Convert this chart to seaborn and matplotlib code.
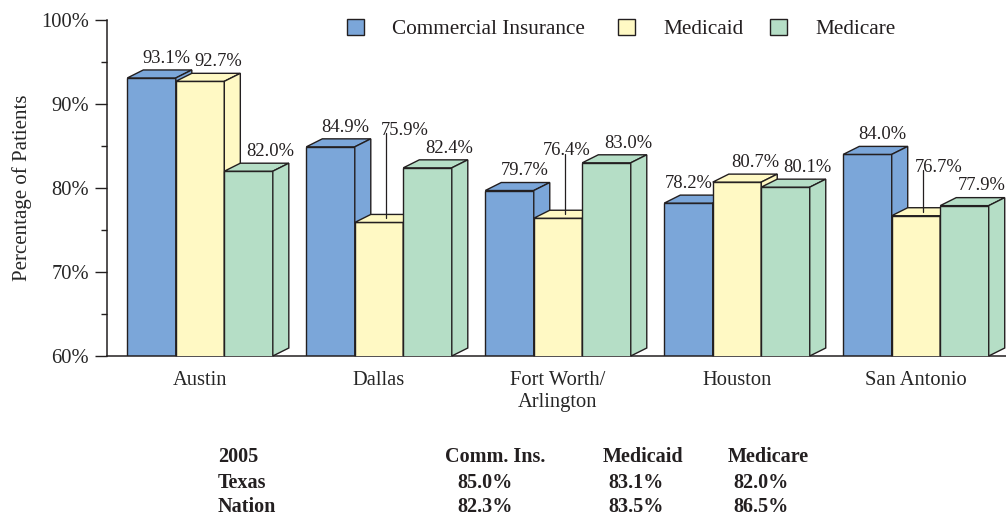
import numpy as np
import pandas as pd
import matplotlib
matplotlib.use("Agg")
import matplotlib.pyplot as plt
from matplotlib.patches import Polygon, Patch
from matplotlib.ticker import MultipleLocator, PercentFormatter
import seaborn as sns

# data
cities = ["Austin", "Dallas", "Fort Worth/\nArlington", "Houston", "San Antonio"]
payers = ["Commercial Insurance", "Medicaid", "Medicare"]
commercial = [93.1, 84.9, 79.7, 78.2, 84.0]
medicaid = [92.7, 75.9, 76.4, 80.7, 76.7]
medicare = [82.0, 82.4, 83.0, 80.1, 77.9]

table_header = ["2005", "Comm. Ins.", "Medicaid", "Medicare"]
table_rows = ["Texas", "Nation"]
texas_2005 = ["85.0%", "83.1%", "82.0%"]
nation_2005 = ["82.3%", "83.5%", "86.5%"]

# styling
colors = ["#7ba6d9", "#fff9c4", "#b5dec6"]
EDGE = "#231f20"
W, H = 1006, 516

sns.set_style("ticks")
plt.rcParams["font.family"] = ["Liberation Serif", "DejaVu Serif"]
plt.rcParams["text.color"] = "#231f20"

df = pd.DataFrame({
    "city": cities * 3,
    "payer": np.repeat(payers, len(cities)),
    "value": commercial + medicaid + medicare,
})

fig = plt.figure(figsize=(W / 100, H / 100), dpi=100)
ax = fig.add_axes([107 / W, 160 / H, 899 / W, 336 / H])

sns.barplot(data=df, x="city", y="value", hue="payer", order=cities,
            hue_order=payers, palette=colors, saturation=1, width=0.813,
            edgecolor=EDGE, linewidth=1.0, errorbar=None, legend=False, ax=ax)

ax.set_xlim(-0.52, 4.503)
ax.set_ylim(60, 100)

# data units per pixel
ux = (4.503 + 0.52) / 899
uy = 40 / 336
DX, DY = 16 * ux, 8 * uy
base = 60

# label tweaks (pixels): default x shift per series, special cases
shift_px = [15, 18, 22]
nudge_px = {(0, 3): -15, (2, 4): -5}
# leader-line labels: (x shift px, label baseline above value in %)
leaders = {(1, 1): (26, 10.4), (1, 2): (9, 7.5), (1, 4): (23, 5.2)}

series = [commercial, medicaid, medicare]
for k, cont in enumerate(ax.containers):
    for i, bar in enumerate(cont):
        x0, w, h = bar.get_x(), bar.get_width(), bar.get_height()
        bar.set_zorder(2 + 3 * k)
        top = Polygon([(x0, h), (x0 + DX, h + DY), (x0 + w + DX, h + DY), (x0 + w, h)],
                      closed=True, facecolor=colors[k], edgecolor=EDGE, lw=1.0,
                      zorder=3 + 3 * k, clip_on=False)
        side = Polygon([(x0 + w, base), (x0 + w, h), (x0 + w + DX, h + DY),
                        (x0 + w + DX, base + DY)],
                       closed=True, facecolor=colors[k], edgecolor=EDGE, lw=1.0,
                       zorder=3 + 3 * k, clip_on=False)
        ax.add_patch(top)
        ax.add_patch(side)

        cx = x0 + w / 2
        txt = f"{series[k][i]:.1f}%"
        if (k, i) in leaders:
            sx, lift = leaders[(k, i)]
            ty = h + lift
            ax.text(cx + sx * ux, ty, txt, ha="center", va="baseline",
                    fontsize=13.3, zorder=20)
            ax.plot([cx + 7 * ux] * 2, [ty + 0.2, h + DY / 2], color=EDGE,
                    lw=0.9, zorder=20, clip_on=False)
        else:
            sx = shift_px[k] + nudge_px.get((k, i), 0)
            ax.text(cx + sx * ux, h + DY + 0.85, txt, ha="center", va="baseline",
                    fontsize=13.3, zorder=20)

# axes
sns.despine(ax=ax, top=True, right=True)
for s in ["left", "bottom"]:
    ax.spines[s].set_linewidth(1.1)
    ax.spines[s].set_color(EDGE)
ax.yaxis.set_major_locator(MultipleLocator(10))
ax.yaxis.set_minor_locator(MultipleLocator(5))
ax.yaxis.set_major_formatter(PercentFormatter(decimals=0))
ax.tick_params(axis="y", which="major", length=8.6, width=1.0, pad=4.3,
               labelsize=14.8, color=EDGE)
ax.tick_params(axis="y", which="minor", length=4.3, width=1.0, color=EDGE)
ax.tick_params(axis="x", length=0, pad=11, labelsize=14.8)
ax.set_xlabel("")
ax.set_ylabel("Percentage of Patients", fontsize=15)
ax.yaxis.set_label_coords(-0.083, 0.5)

# legend, one entry at a time so the gaps follow the original
legend_x = [347, 618, 770]
for c, name, lx in zip(colors, payers, legend_x):
    h = Patch(facecolor=c, edgecolor=EDGE, lw=1.0)
    fig.legend([h], [name], loc="center left", bbox_to_anchor=(lx / W, 1 - 29 / H),
               frameon=False, fontsize=15.3, handlelength=0.82, handleheight=0.82,
               handletextpad=1.3, borderpad=0, borderaxespad=0)

# summary table under the chart
row_y = [457, 483, 507]
head_x = [218, 445, 603, 728]
val_x = [457, 608, 733]
for j, t in enumerate(table_header):
    fig.text(head_x[j] / W, 1 - row_y[0] / H, t, fontsize=14.5, fontweight="bold",
             ha="left", va="center")
for r, (name, vals) in enumerate(zip(table_rows, [texas_2005, nation_2005])):
    y = 1 - row_y[r + 1] / H
    fig.text(head_x[0] / W, y, name, fontsize=14.5, fontweight="bold",
             ha="left", va="center")
    for j, v in enumerate(vals):
        fig.text(val_x[j] / W, y, v, fontsize=14.5, fontweight="bold",
                 ha="left", va="center")

fig.savefig("out.png", dpi=100)
